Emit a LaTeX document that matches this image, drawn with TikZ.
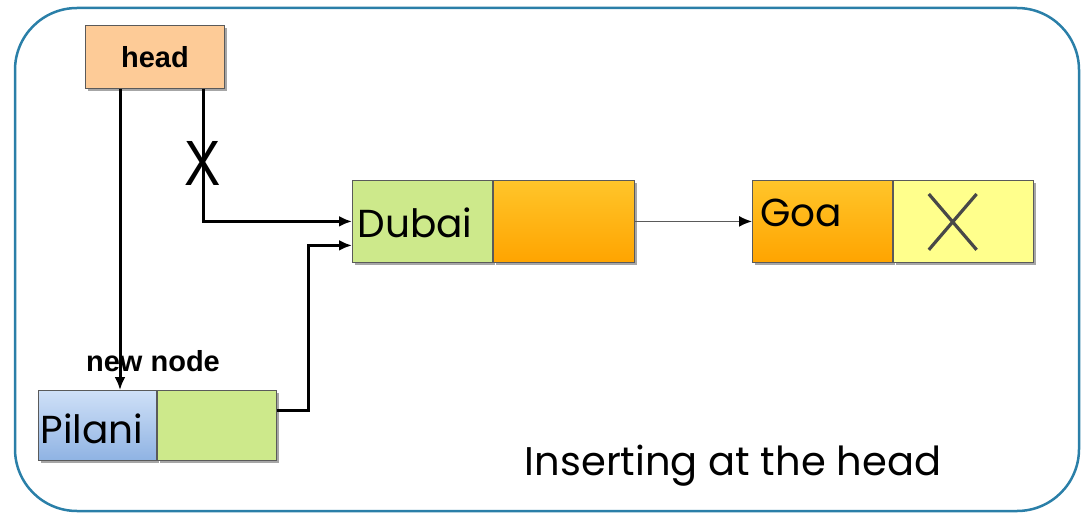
\documentclass[tikz,border=0pt]{standalone}
\usepackage{fontspec}
\setmainfont{Poppins}
\newfontfamily\labelfont{Liberation Sans}
\usetikzlibrary{arrows.meta,shadows,positioning}

\definecolor{frameblue}{HTML}{2A7FA8}
\definecolor{peach}{HTML}{FDCB97}
\definecolor{cellgreen}{HTML}{CDE98B}
\definecolor{orangetop}{HTML}{FFC52A}
\definecolor{orangebot}{HTML}{FFA400}
\definecolor{paleyellow}{HTML}{FFFF8C}
\definecolor{bluetop}{HTML}{CFE0F7}
\definecolor{bluebot}{HTML}{8FB3E3}
\definecolor{edgegray}{HTML}{5A5A5A}

\tikzset{
  cell/.style={draw=edgegray, line width=0.8pt, anchor=north west, inner sep=0pt,
    minimum height=82pt, minimum width=140pt,
    drop shadow={shadow xshift=3pt, shadow yshift=-3pt, opacity=0.35, fill=black}},
  orangecell/.style={cell, top color=orangetop, bottom color=orangebot},
  bluecell/.style={cell, top color=bluetop, bottom color=bluebot},
  celltext/.style={font=\fontsize{39}{39}\selectfont},
  arr/.style={line width=3pt, -{Latex[length=13pt,width=11pt]}},
  boldlabel/.style={font=\labelfont\bfseries\fontsize{29}{29}\selectfont},
}

\begin{document}
\begin{tikzpicture}[x=1pt,y=-1pt]
  \useasboundingbox (0,0) rectangle (1086,516);
  % outer frame
  \draw[frameblue, line width=2.5pt, rounded corners=62pt] (15,8) rectangle (1079,511);

  % head pointer
  \node[cell, fill=peach, minimum width=139pt, minimum height=63pt, boldlabel] (head) at (85,25) {head};

  % list cells
  \node[cell, fill=cellgreen] (dubL) at (352,180) {};
  \node[celltext, anchor=west] (dubT) at ([xshift=2pt,yshift=-1pt]dubL.west) {Dubai};
  \node[orangecell, minimum width=141pt] (dubR) at (dubL.north east) {};

  \node[orangecell] (goaL) at (752,180) {};
  \node[celltext, anchor=west] (goaT) at ([xshift=5pt,yshift=8pt]goaL.west) {Goa};
  \node[cell, fill=paleyellow] (goaR) at (goaL.north east) {};
  \draw[edgegray!80!black, line width=3.2pt] ([xshift=36pt,yshift=-14pt]goaR.north west) -- ([xshift=-57pt,yshift=13pt]goaR.south east);
  \draw[edgegray!80!black, line width=3.2pt] ([xshift=-57pt,yshift=-14pt]goaR.north east) -- ([xshift=36pt,yshift=13pt]goaR.south west);

  \node[bluecell, minimum width=118pt, minimum height=70pt] (pilL) at (38,390) {};
  \node[celltext, anchor=west] (pilT) at ([xshift=-1pt,yshift=-3pt]pilL.west) {Pilani};
  \node[cell, fill=cellgreen, minimum width=119pt, minimum height=70pt] (pilR) at (pilL.north east) {};

  \node[boldlabel] (newlab) at (153,361) {new node};

  % connectors
  \coordinate (hl) at ([xshift=35pt]head.south west);
  \coordinate (hr) at ([xshift=118pt]head.south west);
  \draw[arr] (hl) -- (hl |- pilL.north);
  \draw[arr] (hr) |- (dubL.west);
  \node[font=\labelfont\fontsize{64}{64}\selectfont, xscale=0.85] (cut) at (203,163) {X};
  \draw[arr] ([yshift=15pt]pilR.east) -- ++(32,0) |- ([yshift=-24pt]dubL.west);
  \draw[edgegray, line width=1.6pt, -{Latex[length=13pt,width=11pt,black]}] (dubR.east) -- (goaL.west);

  % caption
  \node[font=\fontsize{40}{40}\selectfont] (caption) at (733,466) {Inserting at the head};
\end{tikzpicture}
\end{document}
